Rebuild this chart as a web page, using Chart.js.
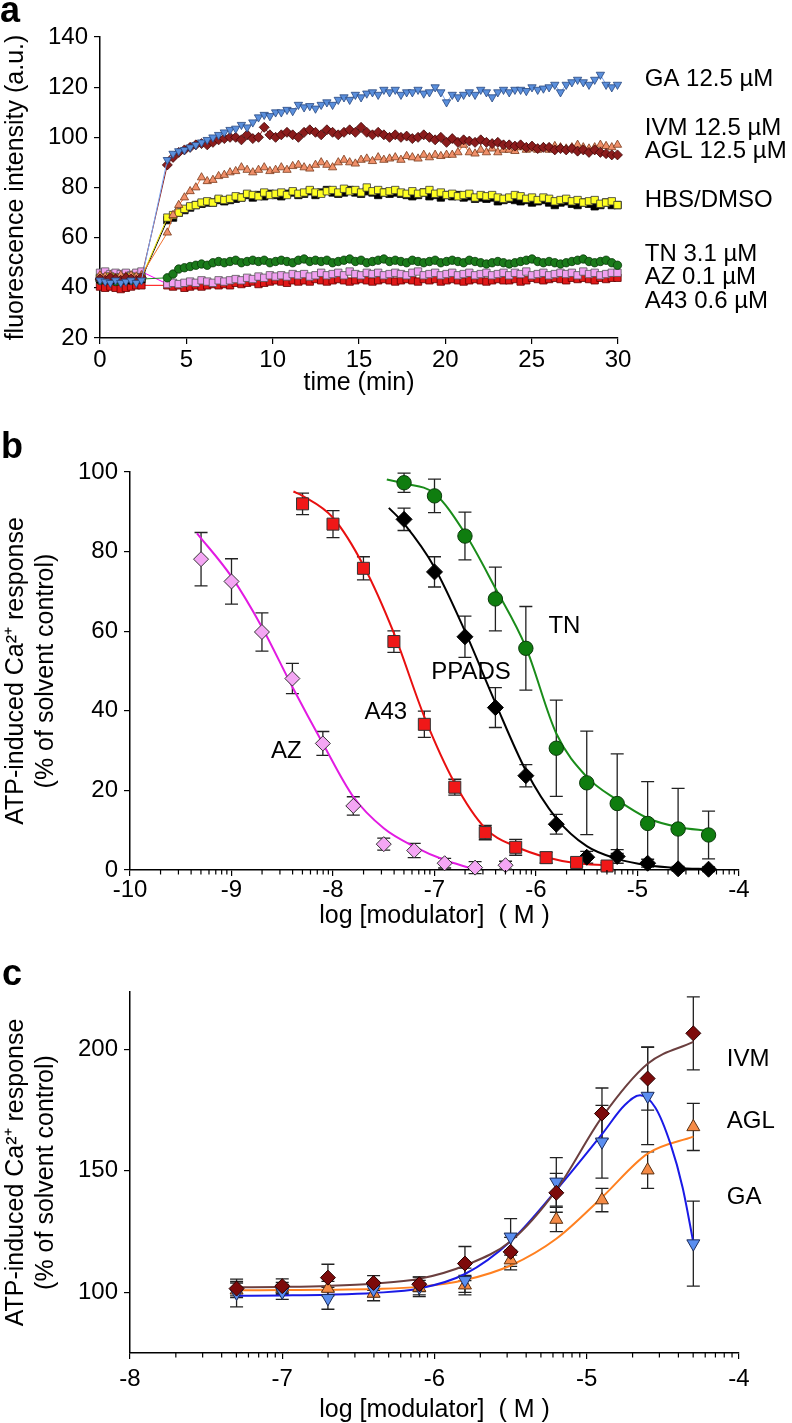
<!DOCTYPE html>
<html lang="en">
<head>
<meta charset="UTF-8">
<title>ATP-induced Ca2+ response - modulators</title>
<script src="https://cdn.jsdelivr.net/npm/chart.js"></script>
<style>
  body { margin: 0; background: #fff; }
  .panel { position: absolute; left: 0; width: 792px; }
  #panel-a { top: 0; height: 400px; }
  #panel-b { top: 400px; height: 540px; }
  #panel-c { top: 940px; height: 483px; }
</style>
</head>
<body>
<div class="panel" id="panel-a"><canvas id="chartA"></canvas></div>
<div class="panel" id="panel-b"><canvas id="chartB"></canvas></div>
<div class="panel" id="panel-c"><canvas id="chartC"></canvas></div>

<script>
// ---------- panel a : fluorescence time course ----------
const preTimes = [0, 0.3, 0.6, 0.9, 1.2, 1.5, 1.8, 2.1, 2.4];
const postStart = 3.9, postStep = 0.33;   // sampling grid after ATP addition

const gaPre  = [43, 42.5, 42, 43, 42, 42.5, 43, 42, 43];
const gaPost = [
  91, 93.5, 94.5, 95, 96, 97, 98, 99, 100, 101,
  102, 103, 103.5, 105, 104, 106, 108, 109, 108.5, 110,
  110, 111, 110.5, 113, 112, 112.5, 111.5, 113, 114, 113,
  115, 116, 115, 117, 116, 117.5, 118, 117, 119, 118,
  119, 117, 118, 118, 119, 117.5, 118, 120, 118, 114,
  117, 116, 117, 118, 117, 119, 118, 116, 118, 119,
  118, 119, 119, 118.5, 120, 119, 119.5, 120, 121, 118,
  121, 122, 123, 122, 121, 123, 125, 121, 120, 121];

const ivmPre  = [43.5, 43, 44, 43.5, 43, 44, 43.5, 43, 44];
const ivmPost = [
  89, 92, 94, 95, 96, 97, 97.5, 97, 98, 99,
  99.5, 100, 100, 99, 101, 99.5, 100, 104, 101, 100,
  101, 102, 101, 100, 102, 103, 102, 101, 103, 102,
  101, 102, 103, 102, 104, 102, 101, 102, 101, 100,
  101, 100, 100.5, 99.5, 100, 101, 100, 99, 100, 98,
  99.5, 98, 99, 98.5, 98, 99, 98, 97.5, 98, 97,
  97, 96.5, 97, 96, 96.5, 95.5, 96, 96, 95, 95.5,
  95, 95.5, 94.5, 95, 94, 95, 94, 93.5, 93, 93];

const aglPre  = [45, 44.5, 45, 44, 45, 44.5, 45, 44.5, 45];
const aglPost = [
  62, 69, 73, 76, 78.5, 80, 84, 82.5, 83, 84.5,
  85, 86, 86.5, 88, 87, 86, 87, 88, 86.5, 87,
  88, 87, 88.5, 89, 88, 87.5, 89, 90, 89, 88,
  90, 91, 90, 89.5, 91, 91.5, 90.5, 92, 91, 91.5,
  92, 91, 92.5, 92, 91.5, 93, 92, 93, 92.5, 93,
  93, 94, 97, 94, 93.5, 95, 94, 95.5, 94, 95,
  95, 94.5, 96, 95, 95.5, 95, 96, 95, 96.5, 96,
  95.5, 96, 97, 96, 95.5, 96, 97, 96.5, 96, 97];

const hbsPre  = [43.5, 44, 43, 43.5, 44, 43, 43.5, 44, 43.5];
const hbsPost = [
  67, 68, 70, 71, 72, 73, 73.5, 74, 74, 75,
  74.5, 75, 75.5, 76, 77, 76, 77, 76.5, 77.5, 77,
  76.5, 77.5, 78, 77, 77.5, 78.5, 77, 78, 79, 78,
  77.5, 78, 79, 78, 77.5, 78.5, 78, 77, 78, 77.5,
  78, 77.5, 77, 76.5, 77, 78, 76.5, 77, 76, 77,
  76.5, 77, 76, 76.5, 75.5, 76, 75.5, 76, 74.5, 75,
  75.5, 75, 74.5, 75, 74, 74.5, 75, 74, 73, 74,
  74.5, 73.5, 73, 74, 73.5, 72.5, 73, 74, 73, 73];

const dmsoPre  = [44, 43.5, 44.5, 44, 43.5, 44, 44.5, 44, 44];
const dmsoPost = [
  68, 69, 70, 71.5, 72.5, 73, 74, 74.5, 74, 75.5,
  75, 75.5, 76.5, 76, 77.5, 77, 76.5, 78, 77, 77.5,
  78, 77, 78.5, 77.5, 78, 79, 78, 77.5, 78.5, 79,
  78, 79.5, 78.5, 79, 78, 80, 78.5, 79, 78, 78.5,
  79, 78, 77.5, 78.5, 77.5, 78, 79, 77.5, 78, 77,
  77.5, 76.5, 77, 77.5, 76, 77, 76.5, 77, 76, 75.5,
  76, 77, 76.5, 75.5, 76, 75, 76, 75.5, 74.5, 75,
  75.5, 74.5, 75, 74, 74.5, 75, 73.5, 74, 74.5, 73];

const tnPre  = [43, 43.5, 43, 42.5, 43, 43.5, 43, 43, 43.5];
const tnPost = [
  44, 45.5, 47.5, 48, 48.5, 49, 49.5, 49, 50, 50.5,
  50, 50.5, 51, 50, 50.5, 51, 50.5, 51, 50, 50.5,
  51, 50.5, 50, 51, 51.5, 50.5, 51, 50.5, 51, 50,
  50.5, 51, 51.5, 50.5, 51, 50, 50.5, 51, 51.5, 50.5,
  51, 50.5, 50, 51, 50.5, 50, 50.5, 51, 50, 50.5,
  51, 50.5, 50, 51, 50.5, 50, 49.5, 50, 50.5, 50,
  49.5, 50, 50.5, 51, 51.5, 50.5, 50, 50.5, 50, 49.5,
  50, 50.5, 51, 51.5, 50.5, 50, 50.5, 51, 50, 49];

const azPre  = [46, 46.5, 45.5, 46, 45.5, 46, 45, 46, 46.5];
const azPost = [
  41.5, 42, 41.5, 42, 42.5, 42, 43, 42.5, 42, 43,
  42.5, 43, 43.5, 43, 44, 43.5, 44.5, 44, 45, 44.5,
  45, 44.5, 45.5, 45, 45.5, 44.5, 45, 46, 45, 45.5,
  46, 45, 46.5, 45.5, 45, 46, 45.5, 46, 45, 45.5,
  46, 45.5, 45, 46, 46.5, 45, 45.5, 46, 45, 45.5,
  46, 45, 45.5, 46, 45, 45.5, 46, 45, 45.5, 46,
  45, 46, 45.5, 46.5, 45, 45.5, 46, 45, 45.5, 46,
  45.5, 46, 45, 46.5, 45.5, 46, 45, 45.5, 46, 46];

const a43Pre  = [40.5, 40, 40.5, 40, 39.5, 40, 40.5, 41, 41];
const a43Post = [
  41, 40.5, 41, 40, 40.5, 41, 40.5, 41, 41.5, 41,
  41.5, 41, 42, 41.5, 42, 42.5, 41.5, 42, 42.5, 43,
  42.5, 42, 43, 42.5, 43, 42.5, 43.5, 43, 42.5, 43,
  43.5, 43, 42.5, 43, 43.5, 43, 42.5, 43, 43.5, 43,
  42.5, 43, 43.5, 43, 42.5, 43.5, 43, 43.5, 42.5, 43,
  43.5, 43, 42.5, 43, 43.5, 43, 42.5, 43, 43.5, 43,
  43, 43.5, 42.5, 43, 44, 43.5, 43, 43.5, 44, 43.5,
  43, 44, 43.5, 44, 43.5, 43, 44, 43.5, 44, 44];

const traceLabels = ['GA 12.5 µM', 'IVM 12.5 µM', 'AGL 12.5 µM', 'HBS/DMSO', 'TN 3.1 µM', 'AZ 0.1 µM', 'A43 0.6 µM'];
const traceLabelLevels = [123.3, 103.6, 94.4, 75, 53.5, 44, 34.5];

// ---------- panel b : inhibitors ----------
const azX   = [-9.3, -9.0, -8.7, -8.4, -8.1, -7.8, -7.5, -7.2, -6.9, -6.6, -6.3];
const azY   = [78.1, 72.5, 59.8, 48.1, 31.8, 16.1, 6.5, 4.9, 1.7, 0.6, 1.2];
const azErr = [6.7, 5.7, 4.8, 3.8, 3.0, 2.3, 1.5, 1.8, 1.2, 1.5, 1.0];
const a43X   = [-8.3, -8.0, -7.7, -7.4, -7.1, -6.8, -6.5, -6.2, -5.9, -5.6, -5.3];
const a43Y   = [92, 86.9, 75.8, 57.4, 36.6, 20.8, 9.4, 5.7, 3.1, 1.9, 1.0];
const a43Err = [2.7, 3.4, 2.9, 2.7, 3.3, 2.0, 1.8, 2.0, 1.4, 1.0, 0.8];
const ppadsX   = [-7.3, -7.0, -6.7, -6.4, -6.1, -5.8, -5.5, -5.2, -4.9, -4.6, -4.3];
const ppadsY   = [88.1, 74.9, 58.6, 40.8, 23.7, 11.5, 3.2, 3.4, 1.7, 0.3, 0.2];
const ppadsErr = [2.8, 3.8, 5.2, 5.0, 2.8, 2.5, 1.5, 1.7, 1.0, 0.6, 0.6];
const tnX   = [-7.3, -7.0, -6.7, -6.4, -6.1, -5.8, -5.5, -5.2, -4.9, -4.6, -4.3];
const tnY   = [97.3, 94.0, 83.9, 68.1, 55.7, 30.6, 21.9, 16.7, 11.7, 10.3, 8.8];
const tnErr = [2.4, 4.2, 6.0, 8.0, 10.5, 12.1, 13.0, 12.5, 10.5, 10.2, 6.0];

// fitted curves
const azFitX = [-9.34, -9.0, -8.7, -8.4, -8.1, -7.8, -7.5, -7.2, -6.9, -6.65];
const azFitY = [84.6, 73.7, 61.0, 46.0, 31.8, 18.4, 10.5, 5.9, 2.5, 0.5];
const a43FitX = [-8.39, -8.3, -8.0, -7.7, -7.4, -7.1, -6.8, -6.5, -6.2, -5.9, -5.6, -5.3];
const a43FitY = [95.1, 94.0, 88.5, 76.5, 59.5, 38.5, 21.8, 10.5, 5.9, 3.2, 1.7, 1.2];
const ppadsFitX = [-7.45, -7.3, -7.0, -6.7, -6.4, -6.1, -5.8, -5.5, -5.2, -4.9, -4.6, -4.3];
const ppadsFitY = [91, 87, 76, 60, 42, 25, 13, 6, 2.8, 1.2, 0.5, 0.2];
const tnFitX = [-7.47, -7.3, -7.0, -6.7, -6.4, -6.1, -5.8, -5.5, -5.2, -4.9, -4.6, -4.3];
const tnFitY = [98.1, 97.1, 94.6, 84.6, 70.8, 56.0, 34.3, 23.4, 17.6, 13.0, 10.8, 9.8];

// ---------- panel c : potentiators ----------
const cX = [-7.3, -7.0, -6.7, -6.4, -6.1, -5.8, -5.5, -5.2, -4.9, -4.6, -4.3];
const ivmY   = [101.5, 102.5, 106, 103.8, 103.3, 111.8, 116.6, 140.9, 173.5, 187.9, 206.5];
const ivmErr = [3, 3, 5.5, 3, 3, 7, 6, 8, 10.5, 13, 15];
const gaY    = [99.7, 100.1, 97.5, 101.1, 102.2, 104.9, 122.8, 145.4, 161.9, 180.7, 120];
const gaErr  = [5.7, 3, 4.5, 3, 4, 5, 7.5, 10, 15, 20, 17.5];
const aglY   = [100.8, 101.5, 101.5, 99.5, 101.9, 102.9, 113.2, 129.9, 137.9, 150.2, 168];
const aglErr = [3, 2.5, 3, 3, 3, 4, 4, 5, 4.8, 7.5, 9.7];

const ivmFitX = [-7.3, -7.0, -6.7, -6.4, -6.1, -5.8, -5.5, -5.2, -4.9, -4.6, -4.3];
const ivmFitY = [102, 102.2, 102.6, 103.5, 105.5, 111, 121, 142, 172, 194, 203];
const gaFitX = [-7.3, -7.0, -6.7, -6.4, -6.1, -5.8, -5.5, -5.2, -4.9, -4.75, -4.65, -4.55, -4.45, -4.37, -4.3];
const gaFitY = [98.5, 98.7, 99, 99.7, 101.5, 107.5, 121, 142, 165, 177, 181, 176, 161, 143, 120.5];
const aglFitX = [-7.3, -7.0, -6.7, -6.4, -6.1, -5.8, -5.5, -5.2, -4.9, -4.6, -4.3];
const aglFitY = [100.8, 100.9, 101, 101.3, 102.2, 105, 111, 122, 139, 157, 164];
const cYTicks = [100, 150, 200];

const FONT = "'Liberation Sans', Arial, sans-serif";
const yTitle = ['ATP-induced Ca²⁺ response', '(% of solvent control)'];
const xTitle = 'log [modulator]  ( M )';

// ---------- plugins ----------
// free text: data coords (x/y), canvas px (px/py), or x-axis title (below chart area)
const textLabels = {
  id: 'textLabels',
  afterDraw(chart, args, opts) {
    const { ctx, scales, chartArea } = chart;
    ctx.save();
    ctx.fillStyle = '#000';
    (opts.items || []).forEach(it => {
      ctx.font = it.font || `24px ${FONT}`;
      ctx.textAlign = it.align || 'left';
      ctx.textBaseline = it.baseline || 'middle';
      let px, py;
      if (it.below !== undefined) {
        px = (chartArea.left + chartArea.right) / 2;
        py = chartArea.bottom + it.below;
      } else {
        px = it.px !== undefined ? it.px : scales.x.getPixelForValue(it.x);
        py = it.py !== undefined ? it.py : scales.y.getPixelForValue(it.y);
      }
      ctx.fillText(it.text, px, py);
    });
    ctx.restore();
  }
};

const errorBars = {
  id: 'errorBars',
  beforeDatasetsDraw(chart) {
    const { ctx, scales: { x, y } } = chart;
    ctx.save();
    ctx.strokeStyle = '#222';
    ctx.lineWidth = 1.3;
    chart.data.datasets.forEach(ds => {
      if (!ds.errors) return;
      ds.data.forEach((p, i) => {
        const px = x.getPixelForValue(p.x);
        const top = y.getPixelForValue(p.y + ds.errors[i]);
        const bot = y.getPixelForValue(p.y - ds.errors[i]);
        ctx.beginPath();
        ctx.moveTo(px, top); ctx.lineTo(px, bot);
        ctx.moveTo(px - 6.5, top); ctx.lineTo(px + 6.5, top);
        ctx.moveTo(px - 6.5, bot); ctx.lineTo(px + 6.5, bot);
        ctx.stroke();
      });
    });
    ctx.restore();
  }
};

// log-spaced minor ticks between the decade ticks
const minorTicks = {
  id: 'minorTicks',
  afterDraw(chart) {
    const { ctx, chartArea } = chart;
    const xs = chart.scales.x;
    ctx.save();
    ctx.strokeStyle = '#000';
    ctx.lineWidth = 1.2;
    ctx.beginPath();
    for (let d = Math.round(xs.min); d < xs.max; d++) {
      for (let k = 2; k <= 9; k++) {
        const px = xs.getPixelForValue(d + Math.log10(k));
        ctx.moveTo(px, chartArea.bottom);
        ctx.lineTo(px, chartArea.bottom + 4.5);
      }
    }
    ctx.stroke();
    ctx.restore();
  }
};

// ---------- helpers ----------
function axis(min, max, step, tickPad, size, horizontal, title) {
  return {
    type: 'linear', min: min, max: max,
    ticks: { stepSize: step, color: '#000', padding: tickPad, autoSkip: false, maxRotation: 0,
             font: { family: FONT, size: 24 } },
    grid: { drawOnChartArea: false, drawTicks: true, tickLength: 6, color: '#000', lineWidth: 1.2 },
    border: { display: true, color: '#000', width: 1.5 },
    title: title ? { display: true, text: title, color: '#000', font: { family: FONT, size: 25 },
                     padding: { top: 1, bottom: 0 } } : { display: false },
    afterFit: horizontal ? s => { s.height = size; } : s => { s.width = size; }
  };
}

function baseOptions(padding, scales, items) {
  return {
    responsive: true, maintainAspectRatio: false, animation: false,
    layout: { padding: padding },
    plugins: { legend: { display: false }, tooltip: { enabled: false }, textLabels: { items: items } },
    scales: scales
  };
}

const postTimes = gaPost.map((_, i) => +(postStart + i * postStep).toFixed(2));

function trace(pre, post, fill, edge, line, style, radius, rotation) {
  return {
    data: preTimes.map((t, i) => ({ x: t, y: pre[i] }))
      .concat(postTimes.map((t, i) => ({ x: t, y: post[i] }))),
    borderColor: line, borderWidth: 1,
    pointStyle: style, pointRadius: radius, pointRotation: rotation || 0,
    pointBackgroundColor: fill, pointBorderColor: edge, pointBorderWidth: 0.8,
    clip: false
  };
}

function markers(xs, ys, errs, style, radius, fill, edge, rotation) {
  return {
    data: xs.map((x, i) => ({ x: x, y: ys[i] })), errors: errs,
    showLine: false, pointStyle: style, pointRadius: radius, pointRotation: rotation || 0,
    pointBackgroundColor: fill, pointBorderColor: edge, pointBorderWidth: 1, clip: false
  };
}

function curve(xs, ys, color) {
  return {
    data: xs.map((x, i) => ({ x: x, y: ys[i] })),
    borderColor: color, borderWidth: 2, pointRadius: 0,
    cubicInterpolationMode: 'monotone', fill: false
  };
}

// ---------- chart a ----------
const labelItemsA = [
  { text: 'a', px: 0, py: 22, font: `bold 36px ${FONT}`, baseline: 'alphabetic' },
  { text: 'time (min)', below: 45, align: 'center', font: `25px ${FONT}` }
].concat(traceLabels.map((t, i) => ({ text: t, x: 31.55, y: traceLabelLevels[i] })));

new Chart(document.getElementById('chartA'), {
  type: 'line',
  data: {
    datasets: [
      trace(gaPre, gaPost, '#5a8fdc', '#27467f', '#7aa6f2', 'triangle', 4.8, 180),
      trace(ivmPre, ivmPost, '#8b1c1c', '#3f0808', '#8b1c1c', 'rectRot', 5),
      trace(aglPre, aglPost, '#f0906a', '#7a3a1a', '#f07030', 'triangle', 4.8),
      trace(dmsoPre, dmsoPost, '#ffff22', '#333', '#e0d800', 'rect', 5.2),
      trace(hbsPre, hbsPost, '#000', '#000', '#000', 'rect', 5.2),
      trace(tnPre, tnPost, '#1a7a1a', '#0a3a0a', '#1a8a1a', 'circle', 4.2),
      trace(azPre, azPost, '#f0a0f0', '#555', '#ff00ff', 'rect', 5.2),
      trace(a43Pre, a43Post, '#e01818', '#600', '#ff0000', 'rect', 5.2)
    ]
  },
  options: baseOptions({ top: 37, right: 174, left: 0, bottom: 0 }, {
    x: axis(0, 30, 5, 2, 62, true),
    y: axis(20, 140, 20, 6, 100, false, 'fluorescence intensity (a.u.)')
  }, labelItemsA),
  plugins: [textLabels]
});

// ---------- chart b ----------
new Chart(document.getElementById('chartB'), {
  type: 'line',
  data: {
    datasets: [
      markers(azX, azY, azErr, 'rectRot', 7.5, '#f4a6f4', '#333'),
      markers(a43X, a43Y, a43Err, 'rect', 8.5, '#f01818', '#333'),
      markers(ppadsX, ppadsY, ppadsErr, 'rectRot', 8, '#000', '#000'),
      markers(tnX, tnY, tnErr, 'circle', 7.2, '#0f7d0f', '#0a3a0a'),
      curve(azFitX, azFitY, '#e21be2'),
      curve(a43FitX, a43FitY, '#e81010'),
      curve(ppadsFitX, ppadsFitY, '#000'),
      curve(tnFitX, tnFitY, '#1a8c1a')
    ]
  },
  options: baseOptions({ top: 72, right: 53, left: 0, bottom: 0 }, {
    x: axis(-10, -4, 1, 0, 70, true),
    y: axis(0, 100, 20, 6, 130, false, yTitle)
  }, [
    { text: 'b', px: 1, py: 58, font: `bold 36px ${FONT}`, baseline: 'alphabetic' },
    { text: xTitle, below: 46, align: 'center', font: `25px ${FONT}` },
    { text: 'AZ', x: -8.46, y: 29.7, align: 'center' },
    { text: 'A43', x: -7.48, y: 39.7, align: 'center' },
    { text: 'PPADS', x: -6.64, y: 49.7, align: 'center' },
    { text: 'TN', x: -5.72, y: 61.3, align: 'center' }
  ]),
  plugins: [errorBars, minorTicks, textLabels]
});

// ---------- chart c ----------
const yAxisC = axis(75, 223.5, 50, 6, 130, false, yTitle);
yAxisC.afterBuildTicks = s => { s.ticks = cYTicks.map(v => ({ value: v })); };

new Chart(document.getElementById('chartC'), {
  type: 'line',
  data: {
    datasets: [
      markers(cX, ivmY, ivmErr, 'rectRot', 7.5, '#7d0a0a', '#2a0000'),
      markers(cX, gaY, gaErr, 'triangle', 7.5, '#5a8ef0', '#1a2a5a', 180),
      markers(cX, aglY, aglErr, 'triangle', 7.5, '#f58a45', '#5a3010'),
      curve(ivmFitX, ivmFitY, '#6b3f3f'),
      curve(gaFitX, gaFitY, '#1a1ae6'),
      curve(aglFitX, aglFitY, '#ff8020')
    ]
  },
  options: baseOptions({ top: 52, right: 53, left: 0, bottom: 0 }, {
    x: axis(-8, -4, 1, 6, 70, true),
    y: yAxisC
  }, [
    { text: 'c', px: 2, py: 45, font: `bold 36px ${FONT}`, baseline: 'alphabetic' },
    { text: xTitle, below: 57, align: 'center', font: `25px ${FONT}` },
    { text: 'IVM', x: -4.08, y: 195.9 },
    { text: 'AGL', x: -4.08, y: 170.1 },
    { text: 'GA', x: -4.08, y: 139.2 }
  ]),
  plugins: [errorBars, minorTicks, textLabels]
});
</script>
</body>
</html>
